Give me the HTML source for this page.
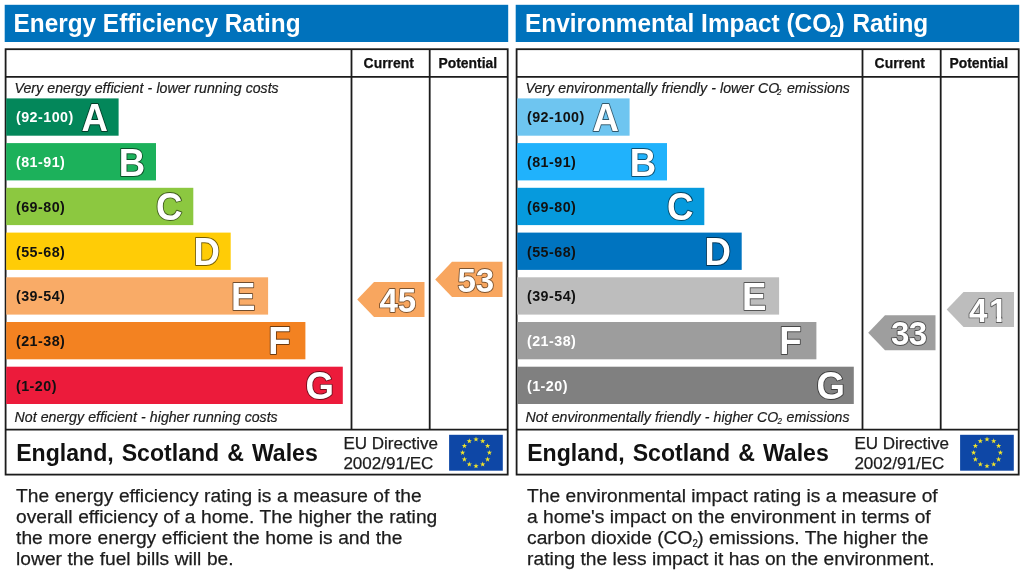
<!DOCTYPE html>
<html lang="en"><head><meta charset="utf-8"><title>Energy Performance Certificate</title>
<style>
html,body{margin:0;padding:0;background:#fff;}
svg{display:block;font-family:"Liberation Sans",Arial,Helvetica,sans-serif;}
.ttl{font-size:24.38px;font-weight:bold;fill:#fff;}
.hd{font-size:13.9px;font-weight:bold;fill:#111;stroke:#111;stroke-width:.25px;}
.it{font-size:14.15px;font-style:italic;fill:#1c1c1c;stroke:#1c1c1c;stroke-width:.2px;word-spacing:.22px;}
.rg{font-size:14.3px;font-weight:bold;letter-spacing:.48px;}
.lt{font-size:36.6px;font-weight:bold;fill:#fff;stroke:#000;stroke-opacity:.55;stroke-width:1.8;paint-order:stroke fill;stroke-linejoin:round;}
.nm{font-size:33.1px;font-weight:bold;fill:#fff;stroke:#000;stroke-opacity:.5;stroke-width:1.8;paint-order:stroke fill;stroke-linejoin:round;}
.esw{font-size:23.1px;font-weight:bold;fill:#111;word-spacing:1.6px;}
.eu{font-size:17.05px;fill:#1c1c1c;stroke:#1c1c1c;stroke-width:.25px;}
.pa{font-size:19.2px;fill:#1c1c1c;stroke:#1c1c1c;stroke-width:.25px;}
</style></head><body>
<svg width="1024" height="573" viewBox="0 0 1024 573">
<defs><clipPath id="one"><path d="M-3 -30H45V-5.1H33.4V2H27V-5.1H20V3H-3Z"/></clipPath></defs>
<rect width="1024" height="573" fill="#fff"/>
<rect x="4.7" y="4.8" width="503.5" height="37.2" fill="#0072bc"/>
<text transform="translate(13.5 32.2) scale(1 1.03)" class="ttl">Energy Efficiency Rating</text>
<g fill="none" stroke="#1c1c1c" stroke-width="1.8">
<rect x="5.6" y="49.2" width="502.1" height="425.4"/>
<path d="M5.6 76.8H507.7M5.6 429.6H507.7M351.5 49.2V429.6M429.7 49.2V429.6"/>
</g>
<text x="388.7" y="67.8" class="hd" text-anchor="middle">Current</text>
<text x="467.8" y="67.8" class="hd" text-anchor="middle">Potential</text>
<text x="14.6" y="92.8" class="it">Very energy efficient - lower running costs</text>
<text x="14.6" y="421.8" class="it">Not energy efficient - higher running costs</text>
<rect x="6.2" y="98.4" width="112.4" height="37.3" fill="#03875a"/>
<text transform="translate(15.9 122.3) scale(1 1.03)" class="rg" fill="#fff">(92-100)</text>
<text transform="translate(81.4 130.8) scale(1 1.05)" class="lt">A</text>
<rect x="6.2" y="143.1" width="149.8" height="37.3" fill="#1cb15b"/>
<text transform="translate(15.9 167.0) scale(1 1.03)" class="rg" fill="#fff">(81-91)</text>
<text transform="translate(118.8 175.5) scale(1 1.05)" class="lt">B</text>
<rect x="6.2" y="187.8" width="187.1" height="37.3" fill="#8cc840"/>
<text transform="translate(15.9 211.7) scale(1 1.03)" class="rg" fill="#111">(69-80)</text>
<text transform="translate(156.1 220.2) scale(1 1.05)" class="lt">C</text>
<rect x="6.2" y="232.6" width="224.5" height="37.3" fill="#ffcc06"/>
<text transform="translate(15.9 256.5) scale(1 1.03)" class="rg" fill="#111">(55-68)</text>
<text transform="translate(193.5 265.0) scale(1 1.05)" class="lt">D</text>
<rect x="6.2" y="277.3" width="261.9" height="37.3" fill="#f9ab67"/>
<text transform="translate(15.9 301.2) scale(1 1.03)" class="rg" fill="#111">(39-54)</text>
<text transform="translate(230.9 309.7) scale(1 1.05)" class="lt">E</text>
<rect x="6.2" y="322.0" width="299.2" height="37.3" fill="#f38221"/>
<text transform="translate(15.9 345.9) scale(1 1.03)" class="rg" fill="#111">(21-38)</text>
<text transform="translate(268.2 354.4) scale(1 1.05)" class="lt">F</text>
<rect x="6.2" y="366.7" width="336.6" height="37.3" fill="#ec1b3b"/>
<text transform="translate(15.9 390.6) scale(1 1.03)" class="rg" fill="#111">(1-20)</text>
<text transform="translate(305.6 399.1) scale(1 1.05)" class="lt">G</text>
<path d="M357.2 299.6L374.0 282.0H424.5V317.1H374.0Z" fill="#f8a65f"/>
<text transform="translate(397.8 311.9) scale(1 1.03)" class="nm" text-anchor="middle">45</text>
<path d="M435.2 279.4L452.0 261.8H502.5V296.9H452.0Z" fill="#f8a65f"/>
<text transform="translate(475.8 291.7) scale(1 1.03)" class="nm" text-anchor="middle">53</text>
<text transform="translate(16.2 460.7) scale(1 1.03)" class="esw">England, Scotland &amp; Wales</text>
<text x="343.4" y="449.3" class="eu">EU Directive</text>
<text x="343.4" y="468.5" class="eu">2002/91/EC</text>
<rect x="449.1" y="434.8" width="53.7" height="35.9" fill="#0e47a6"/>
<polygon points="476.00,436.50 476.65,438.41 478.66,438.43 477.05,439.64 477.65,441.57 476.00,440.40 474.35,441.57 474.95,439.64 473.34,438.43 475.35,438.41" fill="#f2e52a"/>
<polygon points="482.70,438.30 483.35,440.21 485.36,440.23 483.75,441.44 484.35,443.36 482.70,442.20 481.05,443.36 481.65,441.44 480.04,440.23 482.05,440.21" fill="#f2e52a"/>
<polygon points="487.60,443.20 488.25,445.11 490.27,445.13 488.65,446.34 489.25,448.27 487.60,447.10 485.96,448.27 486.56,446.34 484.94,445.13 486.96,445.11" fill="#f2e52a"/>
<polygon points="489.40,449.90 490.05,451.81 492.06,451.83 490.45,453.04 491.05,454.97 489.40,453.80 487.75,454.97 488.35,453.04 486.74,451.83 488.75,451.81" fill="#f2e52a"/>
<polygon points="487.60,456.60 488.25,458.51 490.27,458.53 488.65,459.74 489.25,461.67 487.60,460.50 485.96,461.67 486.56,459.74 484.94,458.53 486.96,458.51" fill="#f2e52a"/>
<polygon points="482.70,461.50 483.35,463.41 485.36,463.44 483.75,464.64 484.35,466.57 482.70,465.40 481.05,466.57 481.65,464.64 480.04,463.44 482.05,463.41" fill="#f2e52a"/>
<polygon points="476.00,463.30 476.65,465.21 478.66,465.23 477.05,466.44 477.65,468.37 476.00,467.20 474.35,468.37 474.95,466.44 473.34,465.23 475.35,465.21" fill="#f2e52a"/>
<polygon points="469.30,461.50 469.95,463.41 471.96,463.44 470.35,464.64 470.95,466.57 469.30,465.40 467.65,466.57 468.25,464.64 466.64,463.44 468.65,463.41" fill="#f2e52a"/>
<polygon points="464.40,456.60 465.04,458.51 467.06,458.53 465.44,459.74 466.04,461.67 464.40,460.50 462.75,461.67 463.35,459.74 461.73,458.53 463.75,458.51" fill="#f2e52a"/>
<polygon points="462.60,449.90 463.25,451.81 465.26,451.83 463.65,453.04 464.25,454.97 462.60,453.80 460.95,454.97 461.55,453.04 459.94,451.83 461.95,451.81" fill="#f2e52a"/>
<polygon points="464.40,443.20 465.04,445.11 467.06,445.13 465.44,446.34 466.04,448.27 464.40,447.10 462.75,448.27 463.35,446.34 461.73,445.13 463.75,445.11" fill="#f2e52a"/>
<polygon points="469.30,438.30 469.95,440.21 471.96,440.23 470.35,441.44 470.95,443.36 469.30,442.20 467.65,443.36 468.25,441.44 466.64,440.23 468.65,440.21" fill="#f2e52a"/>
<text x="16.1" y="501.8" class="pa" word-spacing=".2">The energy efficiency rating is a measure of the</text>
<text x="16.1" y="522.7" class="pa" word-spacing=".2">overall efficiency of a home. The higher the rating</text>
<text x="16.1" y="543.6" class="pa" word-spacing=".2">the more energy efficient the home is and the</text>
<text x="16.1" y="564.5" class="pa" word-spacing=".2">lower the fuel bills will be.</text>
<rect x="515.7" y="4.8" width="503.5" height="37.2" fill="#0072bc"/>
<text transform="translate(0 32.2) scale(1 1.03)" class="ttl"><tspan x="525.1" y="0">Environmental Impact (CO</tspan><tspan x="836.4">)</tspan><tspan x="852.4">Rating</tspan></text><text transform="translate(829.7 37.4) scale(0.93 1)" class="ttl" style="font-size:16.3px">2</text>
<g fill="none" stroke="#1c1c1c" stroke-width="1.8">
<rect x="516.6" y="49.2" width="502.1" height="425.4"/>
<path d="M516.6 76.8H1018.7M516.6 429.6H1018.7M862.5 49.2V429.6M940.7 49.2V429.6"/>
</g>
<text x="899.7" y="67.8" class="hd" text-anchor="middle">Current</text>
<text x="978.8" y="67.8" class="hd" text-anchor="middle">Potential</text>
<text y="92.8" class="it"><tspan x="525.6">Very environmentally friendly - lower CO</tspan><tspan x="787.0">emissions</tspan></text><text transform="translate(776.9 95.0) scale(0.85 1)" class="it" style="font-size:9.3px">2</text>
<text y="421.8" class="it"><tspan x="525.6">Not environmentally friendly - higher CO</tspan><tspan x="786.6">emissions</tspan></text><text transform="translate(777.4 424.2) scale(0.85 1)" class="it" style="font-size:9.3px">2</text>
<rect x="517.2" y="98.4" width="112.4" height="37.3" fill="#6ec5f0"/>
<text transform="translate(526.9 122.3) scale(1 1.03)" class="rg" fill="#111">(92-100)</text>
<text transform="translate(592.4 130.8) scale(1 1.05)" class="lt">A</text>
<rect x="517.2" y="143.1" width="149.8" height="37.3" fill="#20b2fc"/>
<text transform="translate(526.9 167.0) scale(1 1.03)" class="rg" fill="#111">(81-91)</text>
<text transform="translate(629.8 175.5) scale(1 1.05)" class="lt">B</text>
<rect x="517.2" y="187.8" width="187.1" height="37.3" fill="#069add"/>
<text transform="translate(526.9 211.7) scale(1 1.03)" class="rg" fill="#111">(69-80)</text>
<text transform="translate(667.1 220.2) scale(1 1.05)" class="lt">C</text>
<rect x="517.2" y="232.6" width="224.5" height="37.3" fill="#0074c0"/>
<text transform="translate(526.9 256.5) scale(1 1.03)" class="rg" fill="#111">(55-68)</text>
<text transform="translate(704.5 265.0) scale(1 1.05)" class="lt">D</text>
<rect x="517.2" y="277.3" width="261.9" height="37.3" fill="#bdbdbd"/>
<text transform="translate(526.9 301.2) scale(1 1.03)" class="rg" fill="#111">(39-54)</text>
<text transform="translate(741.9 309.7) scale(1 1.05)" class="lt">E</text>
<rect x="517.2" y="322.0" width="299.2" height="37.3" fill="#9d9d9d"/>
<text transform="translate(526.9 345.9) scale(1 1.03)" class="rg" fill="#fff">(21-38)</text>
<text transform="translate(779.2 354.4) scale(1 1.05)" class="lt">F</text>
<rect x="517.2" y="366.7" width="336.6" height="37.3" fill="#808080"/>
<text transform="translate(526.9 390.6) scale(1 1.03)" class="rg" fill="#fff">(1-20)</text>
<text transform="translate(816.6 399.1) scale(1 1.05)" class="lt">G</text>
<path d="M868.2 332.8L885.0 315.2H935.5V350.3H885.0Z" fill="#9e9e9e"/>
<text transform="translate(908.8 344.8) scale(1 1.03)" class="nm" text-anchor="middle" letter-spacing="-.6">33</text>
<path d="M946.7 309.6L963.5 292.0H1014.0V327.1H963.5Z" fill="#bdbdbd"/>
<g transform="translate(968.9 322.0) scale(1 1.03)"><text class="nm" x="0 20.2" y="0" clip-path="url(#one)">41</text><path d="M27.5 -5.1V0M32.9 -5.1V0" fill="none" stroke="#000" stroke-opacity=".45" stroke-width=".8"/></g>
<text transform="translate(527.2 460.7) scale(1 1.03)" class="esw">England, Scotland &amp; Wales</text>
<text x="854.4" y="449.3" class="eu">EU Directive</text>
<text x="854.4" y="468.5" class="eu">2002/91/EC</text>
<rect x="960.1" y="434.8" width="53.7" height="35.9" fill="#0e47a6"/>
<polygon points="987.00,436.50 987.65,438.41 989.66,438.43 988.05,439.64 988.65,441.57 987.00,440.40 985.35,441.57 985.95,439.64 984.34,438.43 986.35,438.41" fill="#f2e52a"/>
<polygon points="993.70,438.30 994.35,440.21 996.36,440.23 994.75,441.44 995.35,443.36 993.70,442.20 992.05,443.36 992.65,441.44 991.04,440.23 993.05,440.21" fill="#f2e52a"/>
<polygon points="998.60,443.20 999.25,445.11 1001.27,445.13 999.65,446.34 1000.25,448.27 998.60,447.10 996.96,448.27 997.56,446.34 995.94,445.13 997.96,445.11" fill="#f2e52a"/>
<polygon points="1000.40,449.90 1001.05,451.81 1003.06,451.83 1001.45,453.04 1002.05,454.97 1000.40,453.80 998.75,454.97 999.35,453.04 997.74,451.83 999.75,451.81" fill="#f2e52a"/>
<polygon points="998.60,456.60 999.25,458.51 1001.27,458.53 999.65,459.74 1000.25,461.67 998.60,460.50 996.96,461.67 997.56,459.74 995.94,458.53 997.96,458.51" fill="#f2e52a"/>
<polygon points="993.70,461.50 994.35,463.41 996.36,463.44 994.75,464.64 995.35,466.57 993.70,465.40 992.05,466.57 992.65,464.64 991.04,463.44 993.05,463.41" fill="#f2e52a"/>
<polygon points="987.00,463.30 987.65,465.21 989.66,465.23 988.05,466.44 988.65,468.37 987.00,467.20 985.35,468.37 985.95,466.44 984.34,465.23 986.35,465.21" fill="#f2e52a"/>
<polygon points="980.30,461.50 980.95,463.41 982.96,463.44 981.35,464.64 981.95,466.57 980.30,465.40 978.65,466.57 979.25,464.64 977.64,463.44 979.65,463.41" fill="#f2e52a"/>
<polygon points="975.40,456.60 976.04,458.51 978.06,458.53 976.44,459.74 977.04,461.67 975.40,460.50 973.75,461.67 974.35,459.74 972.73,458.53 974.75,458.51" fill="#f2e52a"/>
<polygon points="973.60,449.90 974.25,451.81 976.26,451.83 974.65,453.04 975.25,454.97 973.60,453.80 971.95,454.97 972.55,453.04 970.94,451.83 972.95,451.81" fill="#f2e52a"/>
<polygon points="975.40,443.20 976.04,445.11 978.06,445.13 976.44,446.34 977.04,448.27 975.40,447.10 973.75,448.27 974.35,446.34 972.73,445.13 974.75,445.11" fill="#f2e52a"/>
<polygon points="980.30,438.30 980.95,440.21 982.96,440.23 981.35,441.44 981.95,443.36 980.30,442.20 978.65,443.36 979.25,441.44 977.64,440.23 979.65,440.21" fill="#f2e52a"/>
<text x="527.1" y="501.8" class="pa">The environmental impact rating is a measure of</text>
<text x="527.1" y="522.7" class="pa">a home's impact on the environment in terms of</text>
<text y="543.6" class="pa"><tspan x="527.1">carbon dioxide (CO</tspan><tspan x="697.3">) emissions. The higher the</tspan></text><text transform="translate(692.4 546.7) scale(0.9 1)" class="pa" style="font-size:10.7px">2</text>
<text x="527.1" y="564.5" class="pa">rating the less impact it has on the environment.</text>
</svg>
</body></html>
